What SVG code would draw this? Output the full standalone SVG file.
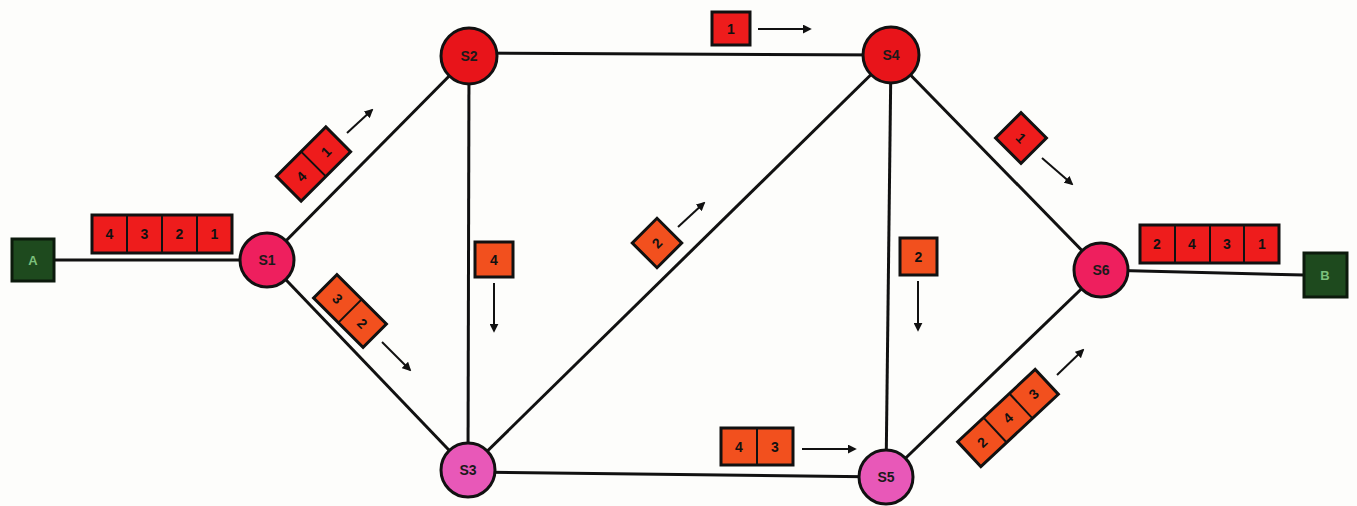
<svg xmlns="http://www.w3.org/2000/svg" width="1357" height="506" viewBox="0 0 1357 506">
<defs>
<style>
.edge{stroke:#111;stroke-width:3;fill:none}
.arr{stroke:#111;stroke-width:2;fill:none;marker-end:url(#ah)}
.node{stroke:#111;stroke-width:3}
.nl{font-family:"Liberation Sans",Arial,sans-serif;font-weight:bold;font-size:14px;fill:#1a1a1a;text-anchor:middle;dominant-baseline:central}
.pr{fill:#EE1C1C;stroke:#111;stroke-width:3}
.po{fill:#F2501E;stroke:#111;stroke-width:3}
.div{stroke:#111;stroke-width:2}
.pt{font-family:"Liberation Sans",Arial,sans-serif;font-weight:bold;font-size:14px;fill:#111;text-anchor:middle;dominant-baseline:central}
.term{fill:#1E4A1E;stroke:#0c1a0c;stroke-width:3}
.tl{font-family:"Liberation Sans",Arial,sans-serif;font-weight:bold;font-size:13px;fill:#7CC07C;text-anchor:middle;dominant-baseline:central}
</style>
<marker id="ah" viewBox="0 0 10 10" refX="8" refY="5" markerWidth="4.5" markerHeight="4.5" orient="auto" markerUnits="strokeWidth">
<path d="M0,0 L10,5 L0,10 z" fill="#111"/>
</marker>
</defs>
<rect width="1357" height="506" fill="#fdfdfb"/>
<g id="connectors">
<line class="edge" x1="54" y1="260" x2="240" y2="260"/>
<line class="edge" x1="267" y1="260" x2="469" y2="56"/>
<line class="edge" x1="267" y1="260" x2="468" y2="470"/>
<line class="edge" x1="469" y1="53" x2="891" y2="55"/>
<line class="edge" x1="469" y1="56" x2="468" y2="470"/>
<line class="edge" x1="468" y1="470" x2="891" y2="55"/>
<line class="edge" x1="468" y1="472" x2="886" y2="477"/>
<line class="edge" x1="891" y1="55" x2="886" y2="477"/>
<line class="edge" x1="891" y1="55" x2="1101" y2="270"/>
<line class="edge" x1="886" y1="477" x2="1101" y2="270"/>
<line class="edge" x1="1101" y1="270" x2="1304" y2="275"/>
</g>
<g id="arrows">
<line class="arr" x1="347" y1="133" x2="372" y2="110"/>
<line class="arr" x1="382" y1="342" x2="410" y2="370"/>
<line class="arr" x1="758" y1="29" x2="810" y2="29"/>
<line class="arr" x1="494" y1="283" x2="494" y2="331"/>
<line class="arr" x1="678" y1="227" x2="704" y2="203"/>
<line class="arr" x1="918" y1="281" x2="918" y2="330"/>
<line class="arr" x1="802" y1="449" x2="855" y2="449"/>
<line class="arr" x1="1042" y1="158" x2="1072" y2="184"/>
<line class="arr" x1="1057" y1="375" x2="1083" y2="350"/>
</g>
<g id="A">
<rect class="term" x="12" y="239" width="42" height="42"/>
<text class="tl" x="33" y="260">A</text>
</g>
<g id="B">
<rect class="term" x="1304" y="253" width="43" height="44"/>
<text class="tl" x="1325" y="275">B</text>
</g>
<g id="S1">
<circle class="node" cx="267" cy="260" r="27" fill="#EE1F5E"/>
<text class="nl" x="267" y="260">S1</text>
</g>
<g id="S2">
<circle class="node" cx="469" cy="56" r="28" fill="#E8141A"/>
<text class="nl" x="469" y="56">S2</text>
</g>
<g id="S3">
<circle class="node" cx="468" cy="470" r="27" fill="#E858B8"/>
<text class="nl" x="468" y="470">S3</text>
</g>
<g id="S4">
<circle class="node" cx="891" cy="55" r="28" fill="#E8141A"/>
<text class="nl" x="891" y="55">S4</text>
</g>
<g id="S5">
<circle class="node" cx="886" cy="477" r="27" fill="#E858B8"/>
<text class="nl" x="886" y="477">S5</text>
</g>
<g id="S6">
<circle class="node" cx="1101" cy="270" r="27" fill="#EE1F5E"/>
<text class="nl" x="1101" y="270">S6</text>
</g>
<g id="pkt-A-S1">
<rect class="pr" x="92" y="215" width="140" height="38"/>
<line class="div" x1="127" y1="215" x2="127" y2="253"/>
<line class="div" x1="162" y1="215" x2="162" y2="253"/>
<line class="div" x1="197" y1="215" x2="197" y2="253"/>
<text class="pt" x="109.5" y="234">4</text>
<text class="pt" x="144.5" y="234">3</text>
<text class="pt" x="179.5" y="234">2</text>
<text class="pt" x="214.5" y="234">1</text>
</g>
<g id="pkt-S6-B">
<rect class="pr" x="1140" y="225" width="139" height="38"/>
<line class="div" x1="1175" y1="225" x2="1175" y2="263"/>
<line class="div" x1="1210" y1="225" x2="1210" y2="263"/>
<line class="div" x1="1244" y1="225" x2="1244" y2="263"/>
<text class="pt" x="1157" y="244">2</text>
<text class="pt" x="1192" y="244">4</text>
<text class="pt" x="1227" y="244">3</text>
<text class="pt" x="1262" y="244">1</text>
</g>
<g id="pkt-S1-S2" transform="translate(313.5,164) rotate(-45)">
<rect class="pr" x="-35" y="-17.5" width="70" height="35"/>
<line class="div" x1="0" y1="-17.5" x2="0" y2="17.5"/>
<text class="pt" x="-17.5" y="0">4</text>
<text class="pt" x="17.5" y="0">1</text>
</g>
<g id="pkt-S1-S3" transform="translate(350,311) rotate(45)">
<rect class="po" x="-35" y="-16.5" width="70" height="33"/>
<line class="div" x1="0" y1="-16.5" x2="0" y2="16.5"/>
<text class="pt" x="-17.5" y="0">3</text>
<text class="pt" x="17.5" y="0">2</text>
</g>
<g id="pkt-S2-S4">
<rect class="pr" x="712" y="12" width="38" height="33"/>
<text class="pt" x="731" y="28.5">1</text>
</g>
<g id="pkt-S2-S3">
<rect class="po" x="475" y="242" width="38" height="35"/>
<text class="pt" x="494" y="259.5">4</text>
</g>
<g id="pkt-S3-S4" transform="translate(657,243) rotate(-45)">
<rect class="po" x="-17.5" y="-17.5" width="35" height="35"/>
<text class="pt" x="0" y="0">2</text>
</g>
<g id="pkt-S4-S5">
<rect class="po" x="900" y="238" width="37" height="37"/>
<text class="pt" x="918.5" y="256.5">2</text>
</g>
<g id="pkt-S3-S5">
<rect class="po" x="721" y="428" width="72" height="37"/>
<line class="div" x1="757" y1="428" x2="757" y2="465"/>
<text class="pt" x="739" y="446.5">4</text>
<text class="pt" x="775" y="446.5">3</text>
</g>
<g id="pkt-S4-S6" transform="translate(1021,138) rotate(45)">
<rect class="pr" x="-18" y="-18" width="36" height="36"/>
<text class="pt" x="0" y="0">1</text>
</g>
<g id="pkt-S5-S6" transform="translate(1008,418) rotate(-43)">
<rect class="po" x="-53" y="-17" width="106" height="34"/>
<line class="div" x1="-17.7" y1="-17" x2="-17.7" y2="17"/>
<line class="div" x1="17.7" y1="-17" x2="17.7" y2="17"/>
<text class="pt" x="-35.3" y="0">2</text>
<text class="pt" x="0" y="0">4</text>
<text class="pt" x="35.3" y="0">3</text>
</g>
</svg>
